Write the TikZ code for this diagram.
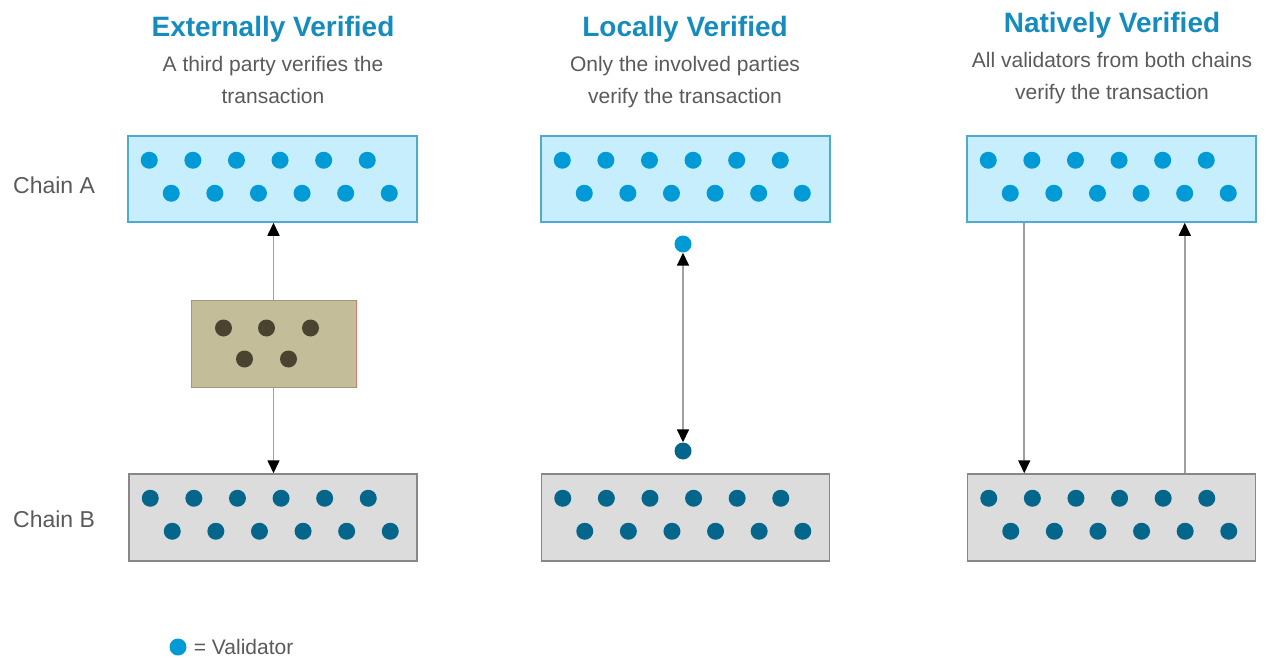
\documentclass[tikz,border=0pt]{standalone}
\usepackage{fontspec}
\setmainfont{Liberation Sans}
\usetikzlibrary{arrows.meta,positioning}
\definecolor{titleblue}{RGB}{22,140,190}
\definecolor{subgray}{RGB}{90,90,90}
\definecolor{chainAfill}{RGB}{198,238,252}
\definecolor{chainAline}{RGB}{80,170,205}
\definecolor{chainBfill}{RGB}{220,220,220}
\definecolor{chainBline}{RGB}{135,135,135}
\definecolor{valA}{RGB}{0,155,215}
\definecolor{valB}{RGB}{5,102,140}
\definecolor{tpfill}{RGB}{196,189,154}
\definecolor{tpline}{RGB}{160,152,118}
\definecolor{tpedge}{RGB}{215,120,100}
\definecolor{tpdot}{RGB}{74,67,48}
\definecolor{linegray}{RGB}{160,160,160}

\begin{document}
\begin{tikzpicture}[x=1pt,y=-1pt,node distance=13pt,
  >={Triangle[width=12pt,length=13pt,black]},
  chaina/.style={rectangle,draw=chainAline,fill=chainAfill,line width=1.5pt,minimum width=289pt,minimum height=86pt,inner sep=0pt},
  chainb/.style={rectangle,draw=chainBline,fill=chainBfill,line width=1.5pt,minimum width=288pt,minimum height=87pt,inner sep=0pt},
  party/.style={rectangle,draw=tpline,fill=tpfill,line width=1pt,minimum width=165pt,minimum height=87pt,inner sep=0pt},
  vala/.style={circle,fill=valA,minimum size=17pt,inner sep=0pt},
  valb/.style={circle,fill=valB,minimum size=17pt,inner sep=0pt},
  valt/.style={circle,fill=tpdot,minimum size=17pt,inner sep=0pt},
  ttl/.style={font=\fontsize{28}{32}\selectfont\bfseries,text=titleblue,inner sep=0pt,anchor=base},
  sub/.style={font=\fontsize{21}{32}\selectfont,text=subgray,align=center,inner sep=0pt},
  lbl/.style={font=\fontsize{23}{26}\selectfont,text=subgray,inner sep=0pt},
  conn/.style={draw=linegray,line width=1.6pt}]
\useasboundingbox (0,0) rectangle (1266,658);
% titles
\node[ttl] (ttlext) at (273,37) {Externally Verified};
\node[sub,below=of ttlext] (subext) {A third party verifies the\\transaction};
\node[ttl] (ttlloc) at (685,37) {Locally Verified};
\node[sub,below=of ttlloc] (subloc) {Only the involved parties\\verify the transaction};
\node[ttl] (ttlnat) at (1112,33) {Natively Verified};
\node[sub,below=of ttlnat] (subnat) {All validators from both chains\\verify the transaction};
% chains
\node[lbl,anchor=west] (cha) at (13,185) {Chain A};
\node[lbl,anchor=west] (chb) at (13,519) {Chain B};
\node[chaina] (ea) at (272.5,179) {};
\node[chaina] (la) at (685.5,179) {};
\node[chaina] (na) at (1111.5,179) {};
\node[chainb] (eb) at (273,517.5) {};
\node[chainb] (lb) at (685.5,517.5) {};
\node[chainb] (nb) at (1111.5,517.5) {};
\foreach \b/\s in {ea/vala,la/vala,na/vala,eb/valb,lb/valb,nb/valb} {
  \foreach \i in {0,...,5} {
    \node[\s] (\b t\i) at ([shift={(22+43.6*\i,25)}]\b.north west) {};
    \node[\s] (\b b\i) at ([shift={(44+43.6*\i,58)}]\b.north west) {};
  }
}
% third party
\node[party] (tp) at (273.5,344) {};
\draw[tpedge,line width=1pt] (tp.north east) -- (tp.south east);
\foreach \x/\y [count=\k] in {33/28,76/28,120/28,54/59,98/59}
  \node[valt] (tp\k) at ([shift={(\x,\y)}]tp.north west) {};
\draw[conn,->] (tp.north) -- (tp.north |- ea.south);
\draw[conn,->] (tp.south) -- (tp.south |- eb.north);
% local
\node[vala] (lv1) at (683,244) {};
\node[valb] (lv2) at (683,451) {};
\draw[conn,<->] (lv1) -- (lv2);
% native
\coordinate (nd) at ([xshift=58pt]na.south west);
\coordinate (nu) at ([xshift=218pt]nb.north west);
\draw[conn,->] (nd) -- (nd |- nb.north);
\draw[conn,->] (nu) -- (nu |- na.south);
% legend
\node[vala] (leg) at (178,647) {};
\node[lbl,font=\fontsize{21}{24}\selectfont,right=7pt of leg] (legtxt) {= Validator};
\end{tikzpicture}
\end{document}
